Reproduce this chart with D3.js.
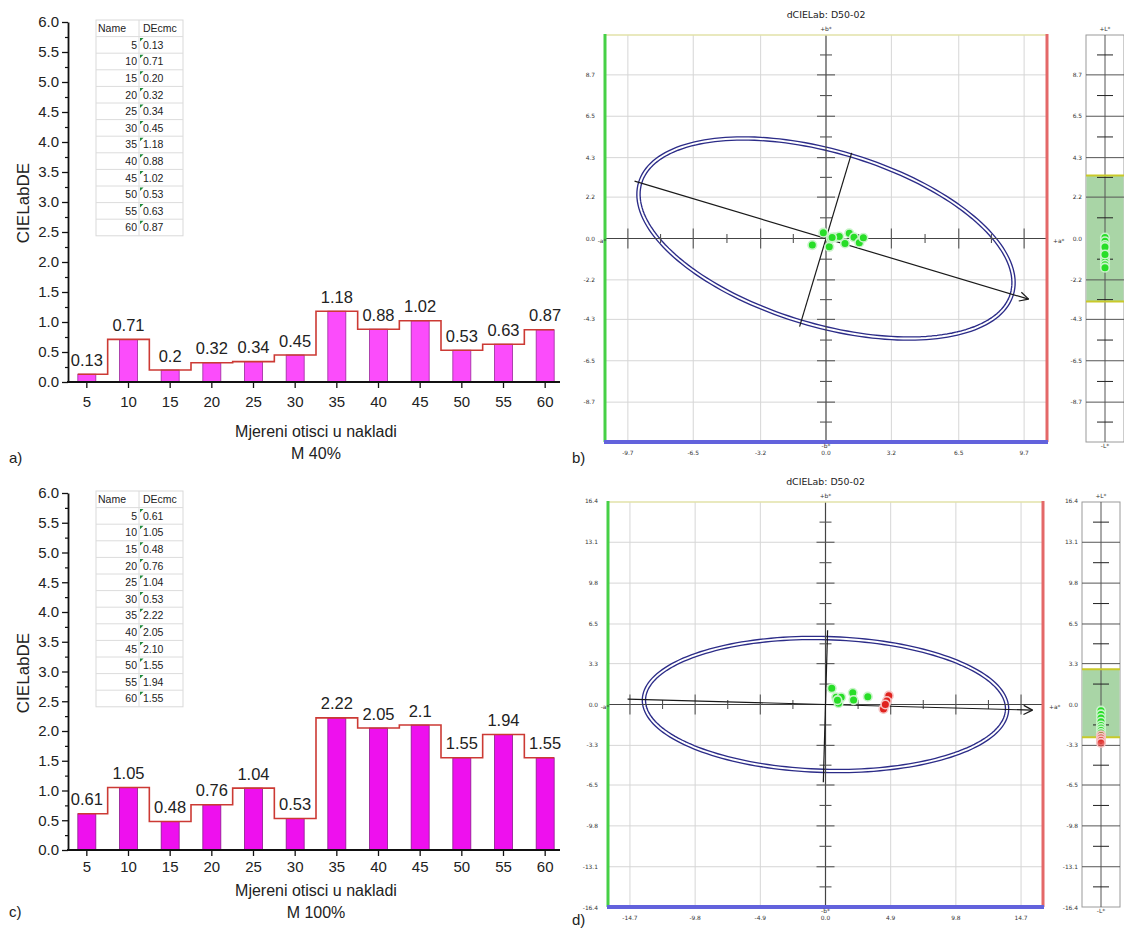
<!DOCTYPE html>
<html><head><meta charset="utf-8">
<script src="https://cdn.jsdelivr.net/npm/d3@7"></script>
<style>
html,body{margin:0;padding:0;background:#fff;}
svg{display:block;}
</style></head><body>
<svg id="chart" width="1124" height="929"></svg>
<script>
// ================= DATA =================
const printRuns = ["5","10","15","20","25","30","35","40","45","50","55","60"];
const dEcmcM40  = [0.13,0.71,0.20,0.32,0.34,0.45,1.18,0.88,1.02,0.53,0.63,0.87];
const dEcmcM100 = [0.61,1.05,0.48,0.76,1.04,0.53,2.22,2.05,2.10,1.55,1.94,1.55];
const dEMajorTicks = [0,0.5,1,1.5,2,2.5,3,3.5,4,4.5,5,5.5,6];
const dEMinorTicks = [0.25,0.75,1.25,1.75,2.25,2.75,3.25,3.75,4.25,4.75,5.25,5.75];
const tableHeader = ["Name","DEcmc"];

// panel b (M 40%)
const rangeB = 10.82;
const aLabelsB = [-9.7,-6.5,-3.2,0.0,3.2,6.5,9.7];
const bLabelsB = [8.7,6.5,4.3,2.2,0.0,-2.2,-4.3,-6.5,-8.7];
const ellipseB_center = [0,0];
const ellipseB_major  = [9.10,-2.96];
const ellipseB_minor  = [1.22,4.42];
const arrowB_extent   = [-1.03,1.09];
const minorLineB_extent = [-1.06,1.03];
const dotsB_da = [-0.13,-0.67,0.16,0.23,0.44,0.65,0.93,1.14,1.37,1.63,1.83,0.30];
const dotsB_db = [0.31,-0.35,-0.44,0.01,0.06,0.10,-0.26,0.28,0.06,-0.22,0.04,0.05];
const dotsB_dL = [0.05,-0.15,-0.35,-0.55,-0.75,-0.95,-1.10,-1.25,-1.40,-1.55,-0.45,-0.85];
const dotsB_ok = [1,1,1,1,1,1,1,1,1,1,1,1];
const toleranceB = [-3.35,3.35];

// panel d (M 100%)
const rangeD = 16.35;
const aLabelsD = [-14.7,-9.8,-4.9,0.0,4.9,9.8,14.7];
const bLabelsD = [16.4,13.1,9.8,6.5,3.3,0.0,-3.3,-6.5,-9.8,-13.1,-16.4];
const ellipseD_center = [0,0];
const ellipseD_major  = [13.65,-0.40];
const ellipseD_minor  = [0.14,5.36];
const arrowD_extent   = [-1.09,1.14];
const minorLineD_extent = [-1.17,1.12];
const dotsD_da = [0.47,0.80,1.18,0.98,2.05,2.11,3.18,0.90,4.76,4.61,4.36,4.50];
const dotsD_db = [1.31,0.58,0.58,0.10,0.95,0.36,0.63,0.35,0.71,0.28,-0.36,0.00];
const dotsD_dL = [-0.5,-0.8,-1.1,-1.4,-1.7,-1.9,-2.1,-2.3,-2.5,-2.7,-2.9,-3.1];
const dotsD_ok = [1,1,1,1,1,1,1,1,0,0,0,0];
const toleranceD = [-2.65,2.85];

// ================= DRAW =================
const svg = d3.select("#chart");
const SANS = "'Liberation Sans', Arial, sans-serif";
const NARROW = "'Liberation Sans Narrow', 'Liberation Sans', Arial, sans-serif";
const DJV = "'DejaVu Sans', sans-serif";

function drawBars(cfg) {
  const g = svg.append("g");
  const x = d3.scaleBand().domain(printRuns).range([66, 566]);
  const y = d3.scaleLinear().domain([0, 6]).range([cfg.y0, cfg.y6]);
  const bw = 18;
  const cxOf = i => x(printRuns[i]) + x.bandwidth() / 2;

  // table
  const tx0 = 96, tx1 = 183, tsplit = 139, rowH = 16.6, ty0 = cfg.tableTop;
  const nRows = printRuns.length + 1;
  const tg = g.append("g");
  tg.append("rect").attr("x", tx0).attr("y", ty0).attr("width", tx1 - tx0).attr("height", rowH * nRows)
    .attr("fill", "#fff").attr("stroke", "#d9d9d9").attr("stroke-width", 1);
  for (let r = 1; r < nRows; r++) {
    tg.append("line").attr("x1", tx0).attr("x2", tx1).attr("y1", ty0 + r * rowH).attr("y2", ty0 + r * rowH)
      .attr("stroke", "#dcdcdc").attr("stroke-width", 1);
  }
  tg.append("line").attr("x1", tsplit).attr("x2", tsplit).attr("y1", ty0).attr("y2", ty0 + rowH * nRows)
    .attr("stroke", "#dcdcdc");
  tg.append("text").attr("x", tx0 + 2).attr("y", ty0 + rowH - 4.5).text(tableHeader[0])
    .attr("font-family", NARROW).attr("font-size", 10.5).attr("fill", "#222");
  tg.append("text").attr("x", tsplit + 4).attr("y", ty0 + rowH - 4.5).text(tableHeader[1])
    .attr("font-family", NARROW).attr("font-size", 10.5).attr("fill", "#222");
  printRuns.forEach((p, i) => {
    const ry = ty0 + (i + 1) * rowH;
    tg.append("text").attr("x", tsplit - 2).attr("y", ry + rowH - 4.5).attr("text-anchor", "end").text(p)
      .attr("font-family", NARROW).attr("font-size", 10.5).attr("fill", "#222");
    tg.append("text").attr("x", tsplit + 4).attr("y", ry + rowH - 4.5).text(cfg.values[i].toFixed(2))
      .attr("font-family", NARROW).attr("font-size", 10.5).attr("fill", "#222");
    tg.append("path").attr("d", `M${tsplit + 1},${ry + 1.5}L${tsplit + 4.5},${ry + 1.5}L${tsplit + 1},${ry + 5}Z`)
      .attr("fill", "#1e8a3a");
  });

  // bars
  g.selectAll("rect.bar").data(cfg.values).join("rect").attr("class", "bar")
    .attr("x", (d, i) => cxOf(i) - bw / 2).attr("y", d => y(d))
    .attr("width", bw).attr("height", d => y(0) - y(d))
    .attr("fill", cfg.barColor).attr("stroke", cfg.barStroke).attr("stroke-width", 0.8);

  // step line
  const n = cfg.values.length, pts = [];
  cfg.values.forEach((v, i) => {
    const c = cxOf(i);
    const l = i === 0 ? c - bw / 2 : c - x.step() / 2;
    const r = i === n - 1 ? c + bw / 2 : c + x.step() / 2;
    pts.push([l, y(v)], [r, y(v)]);
  });
  g.append("path").attr("d", d3.line()(pts)).attr("fill", "none")
    .attr("stroke", "#cc3a34").attr("stroke-width", 1.6);

  // value labels
  g.selectAll("text.val").data(cfg.values).join("text").attr("class", "val")
    .attr("x", (d, i) => cxOf(i)).attr("y", d => y(d) - 8.5).attr("text-anchor", "middle")
    .attr("font-family", SANS).attr("font-size", 16.5).attr("fill", "#222").text(d => String(d));

  // y axis
  const ya = g.append("g").attr("transform", "translate(68,0)")
    .call(d3.axisLeft(y).tickValues(dEMajorTicks).tickFormat(d3.format(".1f")).tickSize(6).tickSizeOuter(0).tickPadding(3));
  ya.select(".domain").attr("stroke", "#111").attr("stroke-width", 1.8);
  ya.selectAll(".tick line").attr("stroke", "#111").attr("stroke-width", 1.3);
  ya.selectAll("text").attr("font-family", SANS).attr("font-size", 15).attr("fill", "#222");
  const ym = g.append("g").attr("transform", "translate(68,0)")
    .call(d3.axisLeft(y).tickValues(dEMinorTicks).tickFormat("").tickSize(3).tickSizeOuter(0));
  ym.select(".domain").remove();
  ym.selectAll(".tick line").attr("stroke", "#111").attr("stroke-width", 1.2);

  // x axis
  const xa = g.append("g").attr("transform", `translate(0,${cfg.y0})`)
    .call(d3.axisBottom(x).tickSize(6).tickSizeOuter(0).tickPadding(cfg.xPad));
  xa.select(".domain").remove();
  xa.selectAll(".tick line").attr("stroke", "#111").attr("stroke-width", 1.3);
  xa.selectAll("text").attr("font-family", SANS).attr("font-size", 15).attr("fill", "#222");
  g.append("line").attr("x1", 67).attr("x2", 560).attr("y1", cfg.y0).attr("y2", cfg.y0)
    .attr("stroke", "#111").attr("stroke-width", 1.8);

  // titles
  g.append("text").attr("x", 316).attr("y", cfg.titleY).attr("text-anchor", "middle")
    .attr("font-family", SANS).attr("font-size", 16).attr("fill", "#222").text("Mjereni otisci u nakladi");
  g.append("text").attr("x", 316).attr("y", cfg.titleY + 22).attr("text-anchor", "middle")
    .attr("font-family", SANS).attr("font-size", 16).attr("fill", "#222").text(cfg.sub);
  g.append("text").attr("transform", `translate(29,${cfg.yTitleY}) rotate(-90)`).attr("text-anchor", "middle")
    .attr("font-family", SANS).attr("font-size", 17).attr("fill", "#222").text("CIELabDE");
  g.append("text").attr("x", 9).attr("y", cfg.letterY).attr("font-family", SANS).attr("font-size", 15)
    .attr("fill", "#222").text(cfg.letter);
}

function drawLab(cfg) {
  const g = svg.append("g");
  const { x0, x1, y0, y1, R } = cfg;
  const x = d3.scaleLinear().domain([-R, R]).range([x0, x1]);
  const y = d3.scaleLinear().domain([-R, R]).range([y1, y0]);
  const cx = x(0), cy = y(0);
  const small = 5.9;

  // title
  g.append("text").attr("x", cx).attr("y", y0 - 17).attr("text-anchor", "middle")
    .attr("font-family", DJV).attr("font-size", 9.4).attr("fill", "#222").text("dCIELab: D50-02");

  // grid
  g.selectAll("line.gv").data(cfg.aLabels.filter(v => v !== 0)).join("line").attr("class", "gv")
    .attr("x1", d => x(d)).attr("x2", d => x(d)).attr("y1", y0).attr("y2", y1)
    .attr("stroke", "#d6d6d6").attr("stroke-width", 1);
  g.selectAll("line.gh").data(cfg.bLabels.filter(v => v !== 0 && Math.abs(v) < R - 0.1)).join("line").attr("class", "gh")
    .attr("x1", x0).attr("x2", x1).attr("y1", d => y(d)).attr("y2", d => y(d))
    .attr("stroke", "#d6d6d6").attr("stroke-width", 1);

  // ellipse (double line)
  const C = cfg.center, U = cfg.major, V = cfg.minor;
  const ts = d3.range(0, 2 * Math.PI, Math.PI / 90);
  const ell = ts.map(t => [x(C[0] + U[0] * Math.cos(t) + V[0] * Math.sin(t)), y(C[1] + U[1] * Math.cos(t) + V[1] * Math.sin(t))]);
  const ellPath = d3.line().curve(d3.curveLinearClosed)(ell);
  g.append("path").attr("d", ellPath).attr("fill", "none").attr("stroke", "#2c2c88").attr("stroke-width", 4.6);
  g.append("path").attr("d", ellPath).attr("fill", "none").attr("stroke", "#fff").attr("stroke-width", 1.9);

  // center axes
  g.append("line").attr("x1", cx).attr("x2", cx).attr("y1", y0).attr("y2", y1).attr("stroke", "#444").attr("stroke-width", 1.2);
  g.append("line").attr("x1", x0).attr("x2", x1).attr("y1", cy).attr("y2", cy).attr("stroke", "#444").attr("stroke-width", 1.2);
  // ticks on a* axis
  const aMaj = cfg.aLabels.filter(v => v !== 0);
  const aMin = cfg.aLabels.slice(1).map((v, i) => (v + cfg.aLabels[i]) / 2);
  g.selectAll("line.ta").data(aMaj).join("line").attr("class", "ta")
    .attr("x1", d => x(d)).attr("x2", d => x(d)).attr("y1", cy - 10).attr("y2", cy + 10).attr("stroke", "#555").attr("stroke-width", 1.1);
  g.selectAll("line.tai").data(aMin).join("line").attr("class", "tai")
    .attr("x1", d => x(d)).attr("x2", d => x(d)).attr("y1", cy - 4.5).attr("y2", cy + 4.5).attr("stroke", "#555").attr("stroke-width", 1.1);
  // ticks on b* axis
  const bAll = [R, ...cfg.bLabels.filter(v => Math.abs(v) < R - 0.1), -R];
  const bMaj = cfg.bLabels.filter(v => v !== 0 && Math.abs(v) < R - 0.1);
  const bMin = bAll.slice(1).map((v, i) => (v + bAll[i]) / 2);
  g.selectAll("line.tb").data(bMaj).join("line").attr("class", "tb")
    .attr("x1", cx - 9).attr("x2", cx + 9).attr("y1", d => y(d)).attr("y2", d => y(d)).attr("stroke", "#555").attr("stroke-width", 1.1);
  g.selectAll("line.tbi").data(bMin).join("line").attr("class", "tbi")
    .attr("x1", cx - 6).attr("x2", cx + 6).attr("y1", d => y(d)).attr("y2", d => y(d)).attr("stroke", "#555").attr("stroke-width", 1.1);

  // major-axis arrow and minor-axis line
  const pa = [x(C[0] + U[0] * cfg.arrow[0]), y(C[1] + U[1] * cfg.arrow[0])];
  const pb = [x(C[0] + U[0] * cfg.arrow[1]), y(C[1] + U[1] * cfg.arrow[1])];
  g.append("line").attr("x1", pa[0]).attr("y1", pa[1]).attr("x2", pb[0]).attr("y2", pb[1]).attr("stroke", "#1a1a1a").attr("stroke-width", 1.2);
  const ang = Math.atan2(pb[1] - pa[1], pb[0] - pa[0]);
  [Math.PI * 0.85, -Math.PI * 0.85].forEach(da => {
    g.append("line").attr("x1", pb[0]).attr("y1", pb[1])
      .attr("x2", pb[0] + 10 * Math.cos(ang + da)).attr("y2", pb[1] + 10 * Math.sin(ang + da))
      .attr("stroke", "#1a1a1a").attr("stroke-width", 1.2);
  });
  const qa = [x(C[0] + V[0] * cfg.minorLine[0]), y(C[1] + V[1] * cfg.minorLine[0])];
  const qb = [x(C[0] + V[0] * cfg.minorLine[1]), y(C[1] + V[1] * cfg.minorLine[1])];
  g.append("line").attr("x1", qa[0]).attr("y1", qa[1]).attr("x2", qb[0]).attr("y2", qb[1]).attr("stroke", "#1a1a1a").attr("stroke-width", 1.2);

  // frame borders
  g.append("line").attr("x1", x0).attr("x2", x1).attr("y1", y0).attr("y2", y0).attr("stroke", "#e2e2a8").attr("stroke-width", 1.6);
  g.append("line").attr("x1", x0).attr("x2", x0).attr("y1", y0 - 1).attr("y2", y1).attr("stroke", "#46d046").attr("stroke-width", 3);
  g.append("line").attr("x1", x1).attr("x2", x1).attr("y1", y0 - 1).attr("y2", y1).attr("stroke", "#e46868").attr("stroke-width", 3);
  g.append("line").attr("x1", x0 - 1).attr("x2", x1 + 1).attr("y1", y1).attr("y2", y1).attr("stroke", "#6262dc").attr("stroke-width", 4);

  // dots
  const dots = cfg.da.map((a, i) => ({ a, b: cfg.db[i], L: cfg.dL[i], ok: cfg.ok[i] }));
  g.selectAll("circle.dot").data(dots).join("circle").attr("class", "dot")
    .attr("cx", d => x(d.a)).attr("cy", d => y(d.b)).attr("r", 4.3)
    .attr("fill", d => d.ok ? "#27de27" : "#e0231f")
    .attr("stroke", d => d.ok ? "#c9f3c9" : "#f6c4c4").attr("stroke-width", 1.6);

  // axis labels
  const lab = (tx, ty, t, anchor) => g.append("text").attr("x", tx).attr("y", ty).attr("text-anchor", anchor || "middle")
    .attr("font-family", DJV).attr("font-size", small).attr("fill", "#333").text(t);
  lab(cx, y0 - 4, "+b*");
  lab(cx, y1 + 6, "-b*");
  lab(x0 - 3, cy + 4, "-a*");
  lab(x1 + 6, cy + 4, "+a*", "start");
  cfg.aLabels.forEach(v => lab(x(v), y1 + 13, v.toFixed(1)));
  cfg.bLabels.forEach(v => lab(x0 - cfg.lblGap, y(v) + 2, v.toFixed(1), "end"));

  // side L* bar
  const sx0 = cfg.sx0, sx1 = cfg.sx1, scx = (sx0 + sx1) / 2;
  const yL = d3.scaleLinear().domain([-R, R]).range([y1, y0]);
  g.append("rect").attr("x", sx0).attr("y", y0).attr("width", sx1 - sx0).attr("height", y1 - y0)
    .attr("fill", "#fff").attr("stroke", "#9a9a9a").attr("stroke-width", 1);
  g.append("rect").attr("x", sx0 + 0.5).attr("y", yL(cfg.tol[1])).attr("width", sx1 - sx0 - 1)
    .attr("height", yL(cfg.tol[0]) - yL(cfg.tol[1])).attr("fill", "#a9d5a6");
  g.append("line").attr("x1", scx).attr("x2", scx).attr("y1", y0).attr("y2", y1).attr("stroke", "#555").attr("stroke-width", 1);
  g.selectAll("line.sl").data(bMaj).join("line").attr("class", "sl")
    .attr("x1", sx0).attr("x2", sx1).attr("y1", d => yL(d)).attr("y2", d => yL(d)).attr("stroke", "#555").attr("stroke-width", 1);
  g.selectAll("line.ss").data(bMin).join("line").attr("class", "ss")
    .attr("x1", scx - 8).attr("x2", scx + 8).attr("y1", d => yL(d)).attr("y2", d => yL(d)).attr("stroke", "#222").attr("stroke-width", 1);
  cfg.tol.forEach(v => g.append("line").attr("x1", sx0).attr("x2", sx1).attr("y1", yL(v)).attr("y2", yL(v))
    .attr("stroke", "#c9c92a").attr("stroke-width", 2));
  g.selectAll("circle.sd").data(dots).join("circle").attr("class", "sd")
    .attr("cx", scx).attr("cy", d => yL(d.L)).attr("r", 4.3)
    .attr("fill", d => d.ok ? "#27de27" : "#e0231f").attr("fill-opacity", d => d.ok ? 1 : 0.55)
    .attr("stroke", d => d.ok ? "#c9f3c9" : "#f6c4c4").attr("stroke-width", 1.6);
  lab(scx, y0 - 4, "+L*");
  lab(scx, y1 + 6, "-L*");
  cfg.bLabels.forEach(v => lab(sx0 - 4, yL(v) + 2, v.toFixed(1), "end"));

  g.append("text").attr("x", 572).attr("y", cfg.letterY).attr("font-family", SANS).attr("font-size", 15)
    .attr("fill", "#222").text(cfg.letter);
}

drawBars({ values: dEcmcM40, y0: 382, y6: 22, tableTop: 20, barColor: "#fb4cfb", barStroke: "#9a2a9a",
  titleY: 437, sub: "M 40%", yTitleY: 203, letter: "a)", letterY: 463, xPad: 8 });
drawBars({ values: dEcmcM100, y0: 850, y6: 493, tableTop: 491, barColor: "#ee10ee", barStroke: "#8a1a8a",
  titleY: 896, sub: "M 100%", yTitleY: 673, letter: "c)", letterY: 917, xPad: 5 });

drawLab({ x0: 605, x1: 1047, y0: 35, y1: 442, R: rangeB, aLabels: aLabelsB, bLabels: bLabelsB,
  center: ellipseB_center, major: ellipseB_major, minor: ellipseB_minor, arrow: arrowB_extent, minorLine: minorLineB_extent,
  da: dotsB_da, db: dotsB_db, dL: dotsB_dL, ok: dotsB_ok, tol: toleranceB, sx0: 1086, sx1: 1124, lblGap: 10,
  letter: "b)", letterY: 463 });
drawLab({ x0: 608, x1: 1043, y0: 502, y1: 907, R: rangeD, aLabels: aLabelsD, bLabels: bLabelsD,
  center: ellipseD_center, major: ellipseD_major, minor: ellipseD_minor, arrow: arrowD_extent, minorLine: minorLineD_extent,
  da: dotsD_da, db: dotsD_db, dL: dotsD_dL, ok: dotsD_ok, tol: toleranceD, sx0: 1082, sx1: 1120, lblGap: 10,
  letter: "d)", letterY: 925 });
</script>
</body></html>
